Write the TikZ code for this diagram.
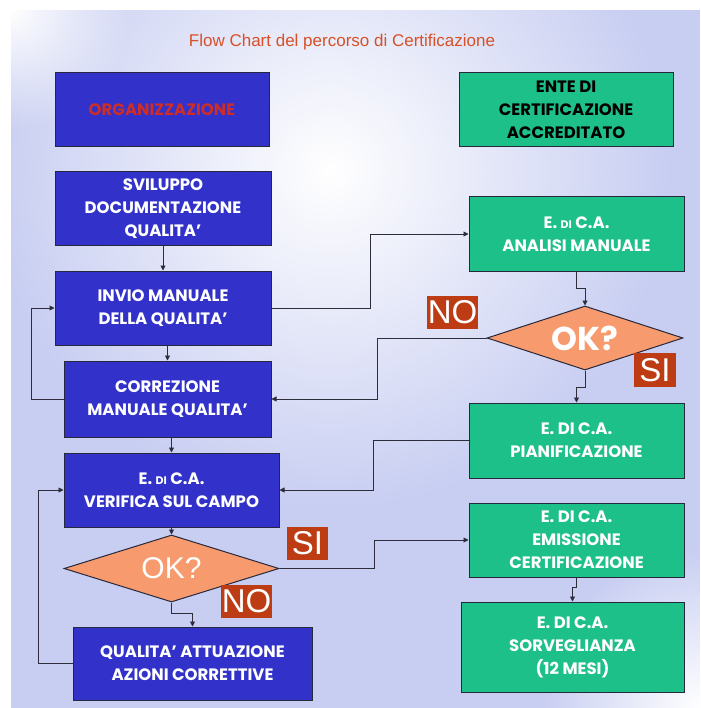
\documentclass[tikz,border=0pt]{standalone}
\usepackage{fontspec}
\setmainfont{Poppins}
\newfontfamily\arialf{Liberation Sans}
\usetikzlibrary{shapes.geometric,arrows.meta,fadings}
\tikzfading[name=fuzzy, inner color=transparent!0, outer color=transparent!100]
\definecolor{bgl}{RGB}{200,206,242}
\definecolor{bluebox}{RGB}{50,50,202}
\definecolor{greenbox}{RGB}{30,192,138}
\definecolor{diamc}{RGB}{247,155,110}
\definecolor{labred}{RGB}{190,60,20}
\definecolor{titlec}{RGB}{215,80,40}
\definecolor{orgtext}{RGB}{205,45,40}
\definecolor{boxline}{RGB}{40,40,60}
\definecolor{linec}{RGB}{45,45,60}
\begin{document}
\begin{tikzpicture}[x=1pt,y=-1pt,
  box/.style={draw=boxline, line width=1pt, align=center, inner sep=2pt,
    font=\bfseries\fontsize{16.5}{23}\selectfont},
  orgbox/.style={box, fill=bluebox, text=white},
  entebox/.style={box, fill=greenbox, text=white},
  decision/.style={diamond, aspect=3.2, draw=boxline, line width=1pt, fill=diamc,
    text=white, inner sep=0pt},
  lab/.style={fill=labred, text=white, inner sep=0pt,
    font=\arialf\fontsize{33}{33}\selectfont},
  arr/.style={draw=linec, line width=0.9pt, -{Triangle[length=5pt,width=5pt]}}]
\useasboundingbox (0,0) rectangle (700,708);
\fill[white] (0,0) rectangle (700,708);
\fill[bgl] (11,10) rectangle (700,708);
\begin{scope}
  \clip (11,10) rectangle (700,708);
  \fill[white, path fading=fuzzy] (330,170) circle (340pt);
  \fill[white, path fading=fuzzy] (700,708) circle (160pt);
  \fill[white, path fading=fuzzy] (11,10) circle (120pt);
\end{scope}

\node[text=titlec, font=\arialf\fontsize{17}{17}\selectfont] (title) at (342,42)
  {Flow Chart del percorso di Certificazione};

\node[orgbox, minimum width=214pt, minimum height=74pt, text=orgtext] (org) at (162,110) {ORGANIZZAZIONE};
\node[entebox, minimum width=214pt, minimum height=74pt, text=black] (ente) at (566,110) {ENTE DI\\CERTIFICAZIONE\\ACCREDITATO};

\node[orgbox, minimum width=216pt, minimum height=74pt] (svil) at (163,209) {SVILUPPO\\DOCUMENTAZIONE\\QUALITA'};
\node[orgbox, minimum width=216pt, minimum height=74pt] (invio) at (163,308) {INVIO MANUALE\\DELLA QUALITA'};
\node[orgbox, minimum width=207pt, minimum height=76pt] (corr) at (167.5,399) {CORREZIONE\\MANUALE QUALITA'};
\node[orgbox, minimum width=215pt, minimum height=74pt] (verif) at (171.5,490) {E. {\fontsize{11}{11}\selectfont DI} C.A.\\VERIFICA SUL CAMPO};
\node[decision, minimum width=215pt, minimum height=67pt,
  font=\arialf\fontsize{30}{30}\selectfont] (dl) at (171.5,568.5) {OK?};
\node[orgbox, minimum width=239pt, minimum height=73pt] (qual) at (192.5,663.5) {QUALITA' ATTUAZIONE\\AZIONI CORRETTIVE};

\node[entebox, minimum width=215pt, minimum height=74pt] (anal) at (576.5,234) {E. {\fontsize{11}{11}\selectfont DI} C.A.\\ANALISI MANUALE};
\node[decision, minimum width=196pt, minimum height=64pt,
  font=\bfseries\fontsize{33}{33}\selectfont] (dr) at (585,338) {OK?};
\node[entebox, minimum width=215pt, minimum height=75pt] (pian) at (576.5,440.5) {E. DI C.A.\\PIANIFICAZIONE};
\node[entebox, minimum width=215pt, minimum height=74pt] (emis) at (576.5,540) {E. DI C.A.\\EMISSIONE\\CERTIFICAZIONE};
\node[entebox, minimum width=223pt, minimum height=90pt] (sorv) at (572.5,647) {E. DI C.A.\\SORVEGLIANZA\\(12 MESI)};

\node[lab, minimum width=51pt, minimum height=33pt] (noR) at (452.5,312.5) {NO};
\node[lab, minimum width=42pt, minimum height=34pt] (siR) at (655,370) {SI};
\node[lab, minimum width=41pt, minimum height=33pt] (siL) at (307.5,543.5) {SI};
\node[lab, minimum width=51pt, minimum height=33pt] (noL) at (246.5,601.5) {NO};

\draw[arr] (svil) -- (invio);
\draw[arr] (invio.south -| corr.north) -- (corr.north);
\draw[arr] (corr.south -| verif.north) -- (verif.north);
\draw[arr] (verif) -- (dl);
\draw[arr] (dl.south) -- ++(0,11) -| (qual.north);
\draw[arr] (qual.west) -- ++(-34,0) |- (verif.west);
\draw[arr] (corr.west) -- ++(-32,0) |- (invio.west);
\draw[arr] (invio.east) -- ++(99,0) |- (anal.west);
\draw[arr] (anal.south) -- ++(0,17) -| (dr.north);
\draw[arr] (dr.west) -- ++(-109,0) |- (corr.east);
\draw[arr] (dr.south) -- ++(0,17) -| (pian.north);
\draw[arr] (pian.west) -- ++(-95,0) |- (verif.east);
\draw[arr] (dl.east) -- ++(95,0) |- (emis.west);
\draw[arr] (emis.south) -- ++(0,10) -| (sorv.north);
\end{tikzpicture}
\end{document}
